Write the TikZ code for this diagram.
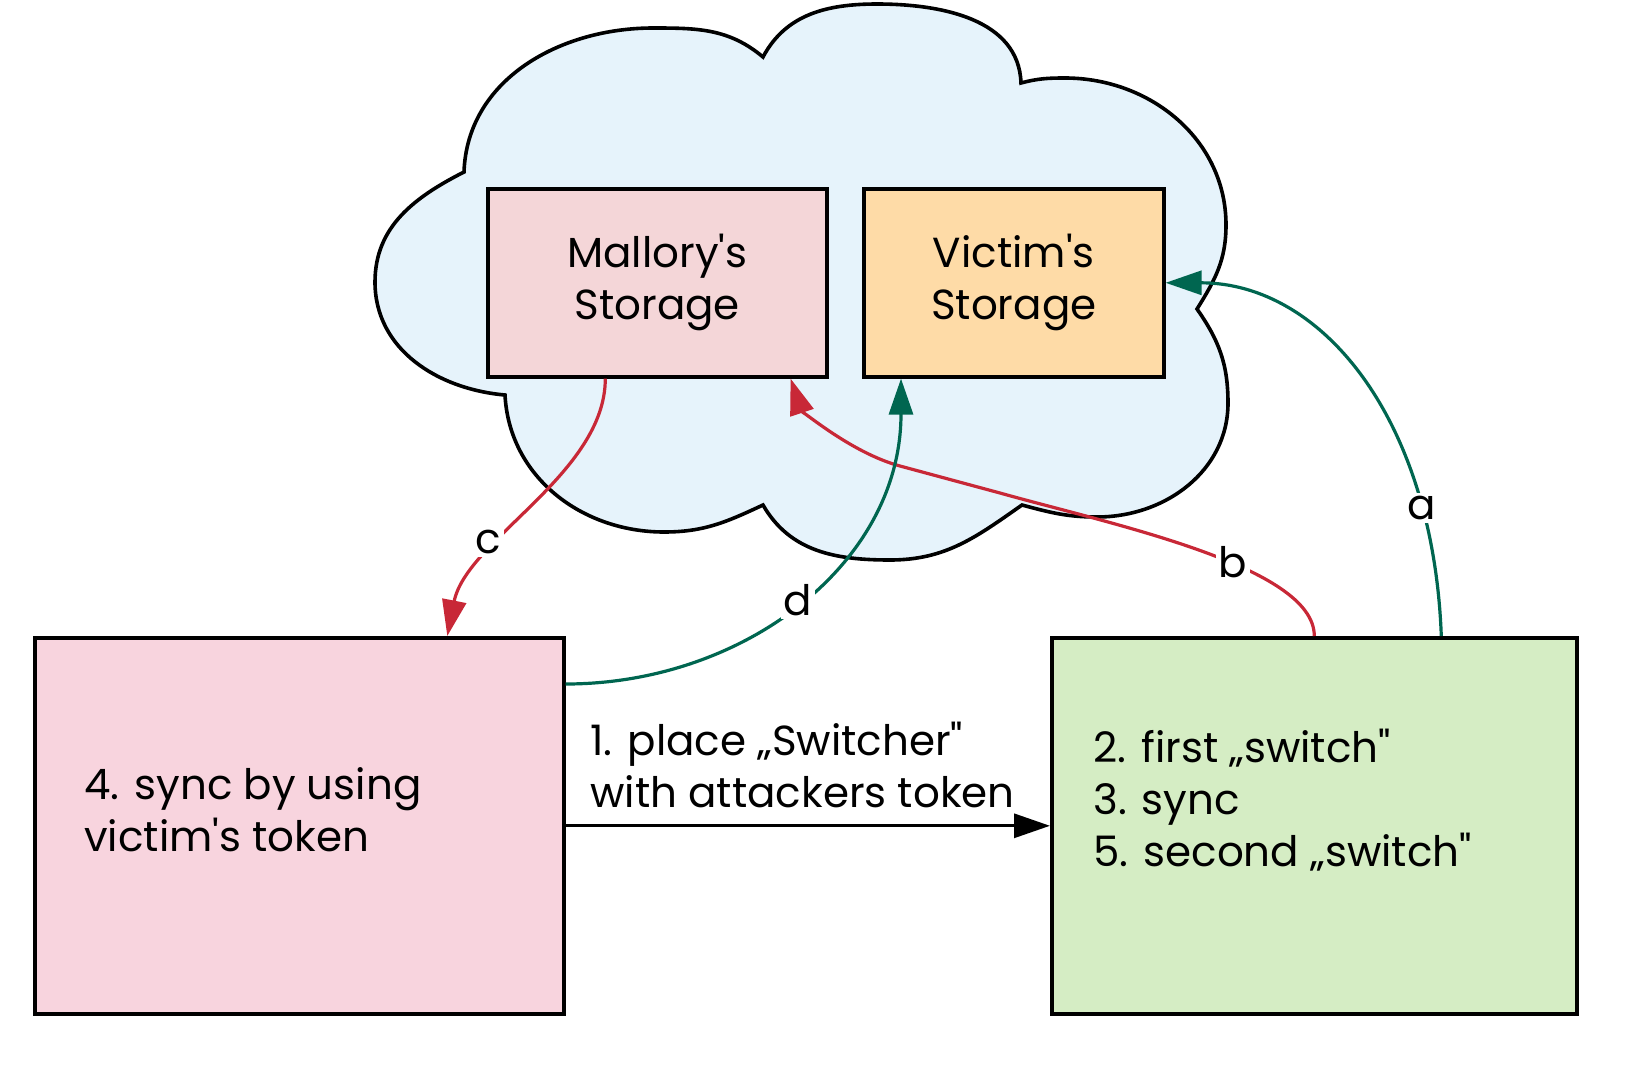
\documentclass[tikz,border=0pt]{standalone}
\usepackage{fontspec}
\setmainfont{Poppins}[Ligatures=TeXOff]
\usetikzlibrary{arrows.meta}

\definecolor{cloudblue}{RGB}{230,243,251}
\definecolor{mallorypink}{RGB}{244,214,216}
\definecolor{victimorange}{RGB}{254,219,167}
\definecolor{clientpink}{RGB}{248,212,222}
\definecolor{clientgreen}{RGB}{213,237,196}
\definecolor{syncgreen}{RGB}{0,102,80}
\definecolor{attackred}{RGB}{200,40,55}

\begin{document}
\begin{tikzpicture}
			[x=0.5pt,y=-0.5pt,every node/.style={font=\fontsize{21pt}{26pt}\selectfont},
			box/.style={draw,line width=1.8pt,inner sep=0pt,anchor=north west,align=center},
			txt/.style={inner sep=0pt,anchor=north west,align=left},
			lbl/.style={fill=white,inner sep=1.5pt},
			edge/.style={line width=1.6pt,-{Triangle[length=18pt,width=12pt]}}]
			\useasboundingbox (0,0) rectangle (1651,1088);

			% cloud
			\draw[line width=1.8pt,fill=cloudblue] (505,395) to[out=175,in=-90] (375,282)
				to[out=90,in=207] (464,172) to[out=88,in=180] (653,28) to[out=0,in=140] (763,57)
				to[out=62,in=180] (877,4) to[out=0,in=92] (1021,83) to[out=15,in=180] (1065,78)
				to[out=0,in=90] (1226,225) to[out=-90,in=58] (1197,309) to[out=-55,in=90] (1228,403)
				to[out=-90,in=0] (1097,517) to[out=180,in=-15] (1022,505) to[out=-145,in=0] (890,560)
				to[out=180,in=-60] (763,505) to[out=-155,in=0] (664,532) to[out=180,in=-87] cycle;

			\node[box,fill=mallorypink,minimum width=169.5pt,minimum height=94pt] (mallory) at (486,187) {Mallory's\\Storage};
			\node[box,fill=victimorange,minimum width=150pt,minimum height=94pt] (victim) at (862,187) {Victim's\\Storage};
			\node[box,fill=clientpink,minimum width=264.5pt,minimum height=188pt] (attacker) at (33,636) {};
			\node[box,fill=clientgreen,minimum width=262.5pt,minimum height=188pt] (switcher) at (1050,636) {};

			\node[txt] (attackertext) at (84,767) {4. sync by using\\victim's token};
			\node[txt] (switchertext) at (1093,729) {2. first „switch"\\3. sync\\5. second „switch"};
			\node[txt] (placetext) at (590,722) {1. place „Switcher"\\with attackers token};

			\coordinate (bmid) at (1000,493);
			\coordinate (bbend) at (900,466);

			\draw[edge] (attacker.east) -- (switcher.west);
			\draw[edge,syncgreen] ([xshift=63.5pt]switcher.north) .. controls +(-8,-216) and +(157,0) .. (victim.east);
			\draw[edge,attackred] (switcher.north) .. controls +(0,-70) and +(110,31) .. (bmid) -- (bbend)
				.. controls +(-50,-13.5) and +(10,30) .. ([xshift=-19pt]mallory.south east);
			\draw[edge,attackred] ([xshift=-26pt]mallory.south) .. controls +(0,95) and +(19,-96) .. ([xshift=74pt]attacker.north);
			\draw[edge,syncgreen] ([yshift=-24pt]attacker.north east) .. controls +(178,0) and +(0,185) .. ([xshift=19.5pt]victim.south west);

			\foreach \x/\y/\name in {1422/508/a,1233/562/b,488/542/c,798/600/d}
			\node[lbl] (lbl\name) at (\x,\y) {\name};

\end{tikzpicture}
\end{document}
